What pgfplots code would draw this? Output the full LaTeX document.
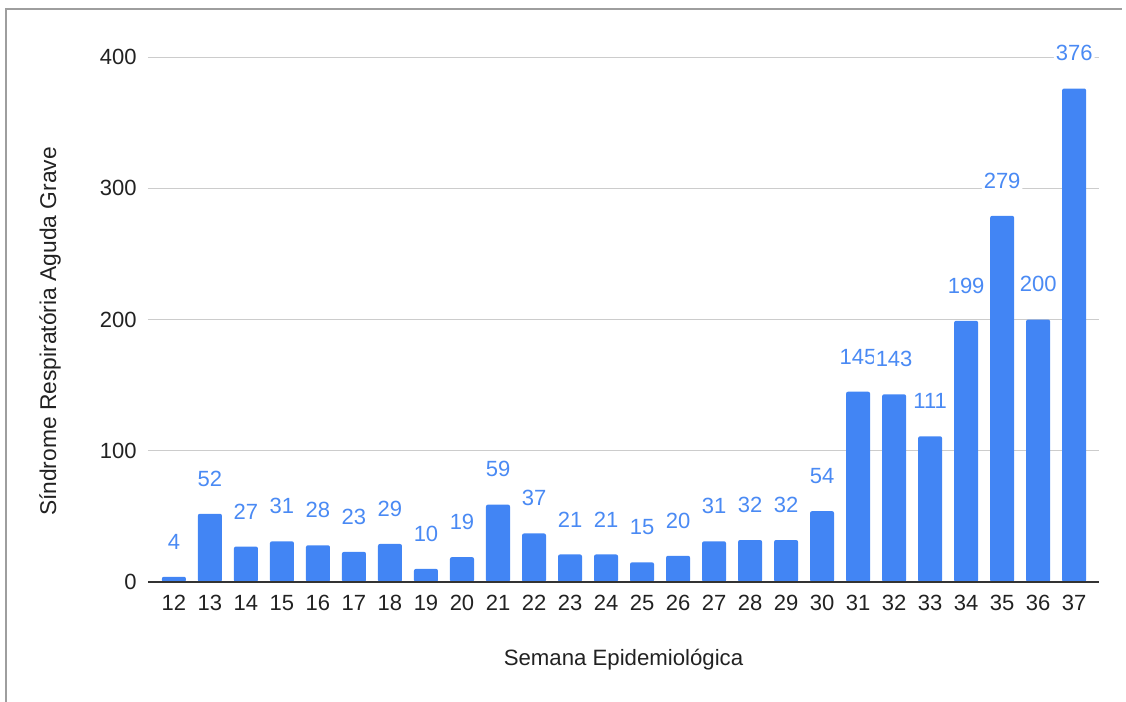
\documentclass[border=0pt]{standalone}
\usepackage{pgfplots}
\pgfplotsset{compat=1.18}
\usepackage{fontspec}
\setmainfont{Liberation Sans}

\definecolor{barblue}{HTML}{4285F4}
\definecolor{lblblue}{HTML}{4A8AF4}
\definecolor{txt}{HTML}{222222}
\definecolor{gridc}{HTML}{CCCCCC}
\definecolor{framec}{HTML}{9E9E9E}

\pgfplotstableread{
sem casos
12 4
13 52
14 27
15 31
16 28
17 23
18 29
19 10
20 19
21 59
22 37
23 21
24 21
25 15
26 20
27 31
28 32
29 32
30 54
31 145
32 143
33 111
34 199
35 279
36 200
37 376
}\srag

\begin{document}
\begin{tikzpicture}
  % page = 1126 x 702 px, 1 px = 0.5 pt, origin at top left
  \useasboundingbox (0pt,0pt) rectangle (563pt,-351pt);
  \draw[framec, line width=0.8pt] (3pt,-351pt) -- (3pt,-4.5pt) -- (561pt,-4.5pt);
  \begin{axis}[
      at={(74pt,-291pt)}, anchor=south west,
      scale only axis, width=475.5pt, height=262.5pt,
      ybar, bar width=0.667,
      xmin=11.28, xmax=37.69, ymin=0, ymax=400,
      xtick=data, ytick={0,100,200,300,400},
      ymajorgrids, grid style={gridc, line width=0.5pt},
      axis line style={draw=none}, major tick length=0pt,
      /pgf/number format/assume math mode=true,
      tick label style={font=\fontsize{11}{13}\selectfont, text=txt},
      yticklabel style={inner sep=0pt, xshift=-5.5pt},
      xticklabel style={inner sep=0pt, anchor=north, yshift=-6.5pt},
      xlabel={Semana Epidemiológica},
      ylabel={Síndrome Respiratória Aguda Grave},
      every axis x label/.style={at={(axis description cs:0.5,0)}, anchor=center, yshift=-39pt,
        font=\fontsize{11.1}{13}\selectfont, text=txt},
      % shifts act in the rotated frame: yshift moves left, xshift moves up
      every axis y label/.style={at={(axis description cs:0,0.5)}, anchor=center, rotate=90, yshift=49pt, xshift=-6pt,
        font=\fontsize{11.4}{13}\selectfont, text=txt},
      nodes near coords,
      every node near coord/.append style={font=\fontsize{11}{13}\selectfont, text=lblblue,
        fill=white, inner sep=1pt, anchor=south, yshift=12.5pt},
      clip=false,
    ]
    \addplot[fill=barblue, draw=none, rounded corners=1pt] table[x=sem, y=casos] {\srag};
    \draw[black!80, line width=0.75pt] (rel axis cs:0,0) -- (rel axis cs:1,0);
  \end{axis}
\end{tikzpicture}
\end{document}
